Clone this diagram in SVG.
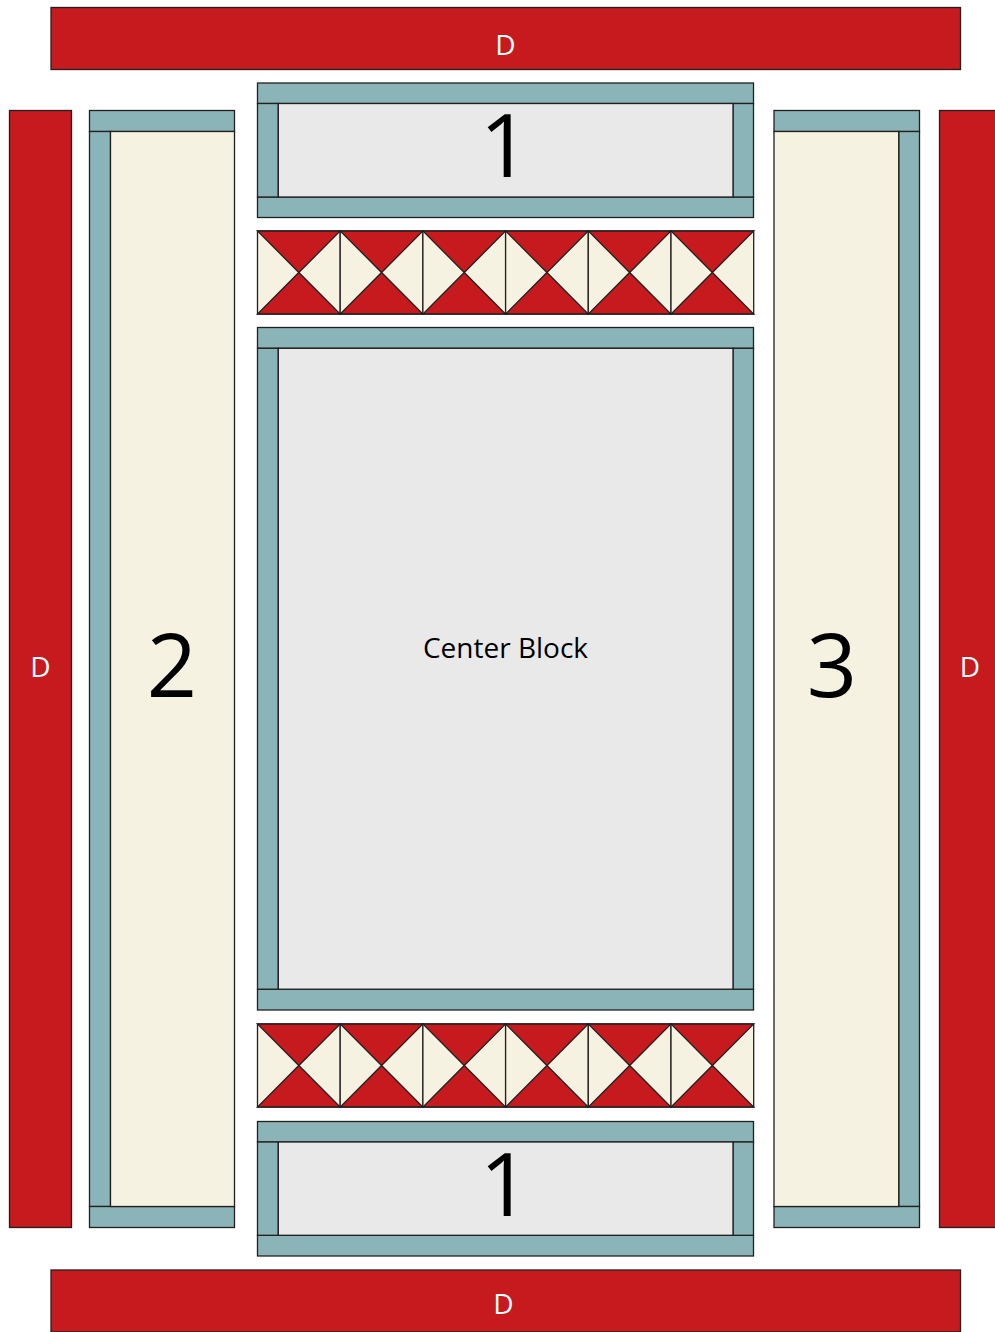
<svg xmlns="http://www.w3.org/2000/svg" xmlns:xlink="http://www.w3.org/1999/xlink" width="995" height="1332" viewBox="0 0 995 1332">
<style>
.red{fill:#C61A1E;stroke:#231F20;stroke-width:1.3}
.teal{fill:#8AB4B8;stroke:#231F20;stroke-width:1.3}
.cream{fill:#F5F2E1;stroke:#231F20;stroke-width:1.3}
.gray{fill:#E9E9E9;stroke:#231F20;stroke-width:1.3}
.lbl{font-family:"Open Sans","Liberation Sans",sans-serif;text-anchor:middle}
.d{fill:#FFFFFF;font-size:28px}
.num{fill:#000000;font-size:88px}
.cb{fill:#000000;font-size:28px}
</style>
<defs>
<g id="hg">
<rect class="cream" x="0" y="0" width="82.7" height="83"/>
<polygon class="red" points="0,0 82.7,0 41.35,41.5"/>
<polygon class="red" points="0,83 82.7,83 41.35,41.5"/>
</g>
</defs>
<g id="border-top">
<rect class="red" x="51" y="7.5" width="909.5" height="62"/>
<text class="lbl d" x="505.5" y="54.5">D</text>
</g>
<g id="border-left">
<rect class="red" x="9.5" y="110.5" width="62" height="1117"/>
<text class="lbl d" x="40.5" y="677">D</text>
</g>
<g id="border-right">
<rect class="red" x="939.5" y="110.5" width="62" height="1117"/>
<text class="lbl d" x="970" y="677">D</text>
</g>
<g id="border-bottom">
<rect class="red" x="51" y="1270" width="909.5" height="62"/>
<text class="lbl d" x="503.5" y="1314">D</text>
</g>
<g id="panel-2">
<rect class="teal" x="89.5" y="110.5" width="145" height="21"/>
<rect class="teal" x="89.5" y="131.5" width="21" height="1075"/>
<rect class="teal" x="89.5" y="1206.5" width="145" height="21"/>
<rect class="cream" x="110.5" y="131.5" width="124" height="1075"/>
<text class="lbl num" x="172" y="697">2</text>
</g>
<g id="panel-3">
<rect class="teal" x="774" y="110.5" width="145.5" height="21"/>
<rect class="teal" x="898.7" y="131.5" width="20.8" height="1075"/>
<rect class="teal" x="774" y="1206.5" width="145.5" height="21"/>
<rect class="cream" x="774" y="131.5" width="124.7" height="1075"/>
<text class="lbl num" x="832" y="697">3</text>
</g>
<g id="panel-1-top">
<rect class="teal" x="257.5" y="83" width="496" height="20.5"/>
<rect class="teal" x="257.5" y="197" width="496" height="20.5"/>
<rect class="teal" x="257.5" y="103.5" width="20.8" height="93.5"/>
<rect class="teal" x="733" y="103.5" width="20.5" height="93.5"/>
<rect class="gray" x="278.3" y="103.5" width="454.7" height="93.5"/>
<text class="lbl num" x="505" y="177">1</text>
</g>
<g id="hourglass-strip-top">
<use xlink:href="#hg" x="257.5" y="231"/>
<use xlink:href="#hg" x="340.2" y="231"/>
<use xlink:href="#hg" x="422.9" y="231"/>
<use xlink:href="#hg" x="505.6" y="231"/>
<use xlink:href="#hg" x="588.3" y="231"/>
<use xlink:href="#hg" x="671" y="231"/>
</g>
<g id="center-block">
<rect class="teal" x="257.5" y="327.5" width="496" height="20.8"/>
<rect class="teal" x="257.5" y="989.2" width="496" height="20.8"/>
<rect class="teal" x="257.5" y="348.3" width="20.8" height="640.9"/>
<rect class="teal" x="733" y="348.3" width="20.5" height="640.9"/>
<rect class="gray" x="278.3" y="348.3" width="454.7" height="640.9"/>
<text class="lbl cb" x="505.5" y="658.3">Center Block</text>
</g>
<g id="hourglass-strip-bottom">
<use xlink:href="#hg" x="257.5" y="1024"/>
<use xlink:href="#hg" x="340.2" y="1024"/>
<use xlink:href="#hg" x="422.9" y="1024"/>
<use xlink:href="#hg" x="505.6" y="1024"/>
<use xlink:href="#hg" x="588.3" y="1024"/>
<use xlink:href="#hg" x="671" y="1024"/>
</g>
<g id="panel-1-bottom">
<rect class="teal" x="257.5" y="1121.5" width="496" height="20.5"/>
<rect class="teal" x="257.5" y="1235.3" width="496" height="20.7"/>
<rect class="teal" x="257.5" y="1142" width="20.8" height="93.3"/>
<rect class="teal" x="733" y="1142" width="20.5" height="93.3"/>
<rect class="gray" x="278.3" y="1142" width="454.7" height="93.3"/>
<text class="lbl num" x="505" y="1216">1</text>
</g>
</svg>
